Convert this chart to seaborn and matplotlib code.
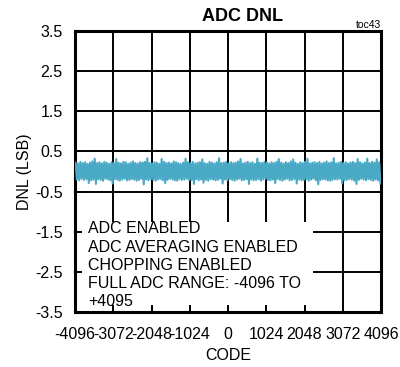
import numpy as np
import pandas as pd
import matplotlib
matplotlib.use("Agg")
import matplotlib.pyplot as plt
from matplotlib.patches import Rectangle
import seaborn as sns

# DNL envelope per 64-code segment across the full ADC range (-4096 .. +4095)
seg_codes = 64
dnl_high = [
    0.22, 0.20, 0.24, 0.21, 0.23, 0.19, 0.22, 0.25, 0.32, 0.21, 0.23, 0.20, 0.24, 0.22, 0.19, 0.23,
    0.21, 0.31, 0.22, 0.20, 0.24, 0.23, 0.19, 0.22, 0.25, 0.21, 0.20, 0.23, 0.22, 0.24, 0.33, 0.21,
    0.20, 0.23, 0.22, 0.19, 0.31, 0.24, 0.21, 0.22, 0.20, 0.25, 0.23, 0.21, 0.19, 0.22, 0.32, 0.23,
    0.21, 0.24, 0.20, 0.22, 0.23, 0.30, 0.21, 0.19, 0.24, 0.22, 0.20, 0.23, 0.33, 0.21, 0.22, 0.24,
    0.20, 0.23, 0.21, 0.22, 0.25, 0.31, 0.20, 0.22, 0.24, 0.21, 0.23, 0.19, 0.32, 0.22, 0.21, 0.24,
    0.22, 0.20, 0.23, 0.21, 0.24, 0.31, 0.22, 0.20, 0.23, 0.21, 0.25, 0.30, 0.22, 0.19, 0.23, 0.21,
    0.24, 0.32, 0.20, 0.22, 0.23, 0.21, 0.24, 0.20, 0.22, 0.25, 0.21, 0.23, 0.33, 0.20, 0.22, 0.24,
    0.21, 0.23, 0.20, 0.22, 0.24, 0.21, 0.31, 0.23, 0.20, 0.22, 0.32, 0.21, 0.24, 0.22, 0.30, 0.23,
]
dnl_low = [
    -0.20, -0.22, -0.18, -0.21, -0.19, -0.29, -0.22, -0.20, -0.31, -0.19, -0.21, -0.23, -0.18, -0.20, -0.22, -0.30,
    -0.19, -0.21, -0.23, -0.20, -0.18, -0.22, -0.21, -0.19, -0.20, -0.23, -0.21, -0.18, -0.32, -0.20, -0.22, -0.19,
    -0.21, -0.23, -0.20, -0.19, -0.22, -0.29, -0.21, -0.18, -0.20, -0.22, -0.23, -0.19, -0.21, -0.20, -0.18, -0.22,
    -0.21, -0.31, -0.19, -0.22, -0.20, -0.28, -0.21, -0.23, -0.19, -0.20, -0.22, -0.21, -0.18, -0.30, -0.20, -0.22,
    -0.19, -0.21, -0.23, -0.20, -0.18, -0.22, -0.21, -0.19, -0.31, -0.20, -0.22, -0.21, -0.19, -0.23, -0.20, -0.18,
    -0.21, -0.22, -0.20, -0.29, -0.19, -0.21, -0.23, -0.20, -0.18, -0.22, -0.21, -0.19, -0.30, -0.20, -0.22, -0.21,
    -0.19, -0.23, -0.20, -0.18, -0.22, -0.32, -0.21, -0.19, -0.20, -0.22, -0.23, -0.21, -0.19, -0.20, -0.18, -0.29,
    -0.22, -0.21, -0.19, -0.20, -0.23, -0.31, -0.21, -0.18, -0.20, -0.22, -0.19, -0.21, -0.23, -0.20, -0.22, -0.30,
]

x_ticks = [-4096, -3072, -2048, -1024, 0, 1024, 2048, 3072, 4096]
y_ticks = [3.5, 2.5, 1.5, 0.5, -0.5, -1.5, -2.5, -3.5]
x_tick_labels = ["-4096", "-3072", "-2048", "-1024", "0", "1024", "2048", "3072", "4096"]
y_tick_labels = ["3.5", "2.5", "1.5", "0.5", "-0.5", "-1.5", "-2.5", "-3.5"]

notes = ["ADC ENABLED", "ADC AVERAGING ENABLED", "CHOPPING ENABLED",
         "FULL ADC RANGE: -4096 TO", "+4095"]

# Zig-zag trace: each segment swings from its high to its low value
codes, values = [], []
for i, (hi, lo) in enumerate(zip(dnl_high, dnl_low)):
    start = x_ticks[0] + i * seg_codes
    codes += [start + seg_codes // 4, start + 3 * seg_codes // 4]
    values += [hi, lo]
df = pd.DataFrame({"CODE": codes, "DNL": values})

sns.set_theme(style="white")
plt.rcParams["font.family"] = ["Liberation Sans", "DejaVu Sans"]

fig = plt.figure(figsize=(4.0, 3.67), dpi=100)
ax = fig.add_axes([0.1875, 0.150, 0.765, 0.7655])

for xv in x_ticks:
    ax.axvline(xv, color="black", lw=1.4, zorder=1)
for yv in y_ticks:
    ax.axhline(yv, color="black", lw=1.4, zorder=1)

sns.lineplot(data=df, x="CODE", y="DNL", ax=ax, sort=False, estimator=None,
             color="#4AAAC5", lw=1.5, zorder=3)

ax.add_patch(Rectangle((0, 0), 0.778, 0.32, transform=ax.transAxes,
                       facecolor="white", edgecolor="none", zorder=2))
ax.text(0.042, 0.322, "\n".join(notes), transform=ax.transAxes, ha="left", va="top",
        fontsize=11.5, linespacing=1.27, color="black", zorder=4)

ax.set_xlim(x_ticks[0], x_ticks[-1])
ax.set_ylim(y_ticks[-1], y_ticks[0])
ax.set_xticks(x_ticks)
ax.set_xticklabels(x_tick_labels)
ax.set_yticks(y_ticks)
ax.set_yticklabels(y_tick_labels)
ax.set_axisbelow(False)
ax.tick_params(axis="both", direction="in", length=5, width=1.4, color="black",
               labelsize=11.5, labelcolor="black", bottom=True, left=True)
ax.tick_params(axis="x", pad=11)
ax.tick_params(axis="y", pad=9)
for s in ax.spines.values():
    s.set_visible(True)
    s.set_color("black")
    s.set_linewidth(2.2)

ax.set_xlabel("CODE", fontsize=11.5, color="black", labelpad=4)
ax.set_ylabel("DNL (LSB)", fontsize=11.5, color="black", labelpad=2)

fig.text(0.607, 0.954, "ADC DNL", ha="center", va="center", fontsize=13,
         fontweight="bold", color="black")
fig.text(0.952, 0.932, "toc43", ha="right", va="center", fontsize=7.5, color="black")

fig.savefig("out.png", dpi=100, facecolor="white")
